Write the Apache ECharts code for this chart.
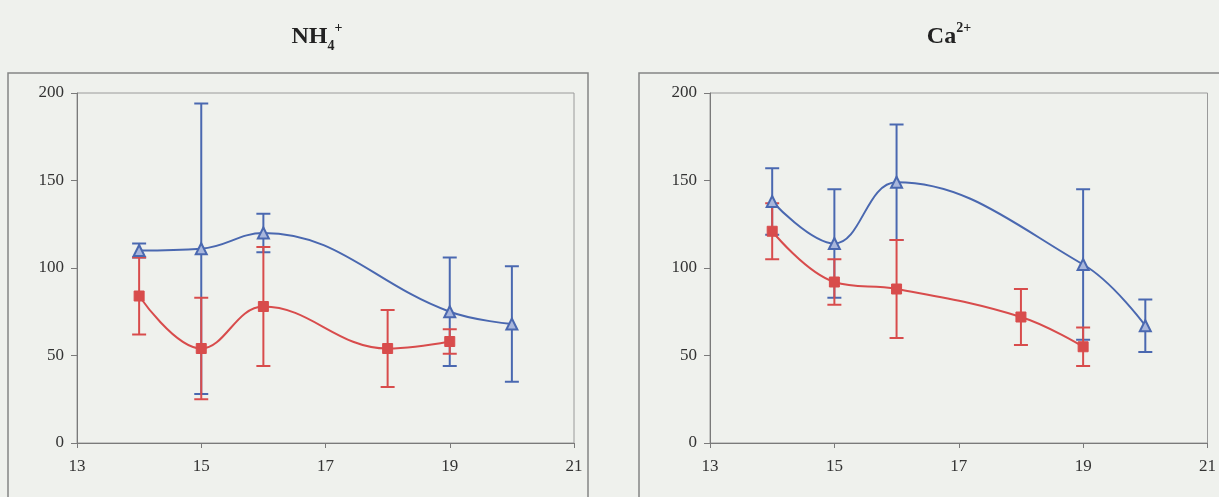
<!DOCTYPE html>
<html>
<head>
<meta charset="utf-8">
<script src="https://cdn.jsdelivr.net/npm/echarts@6/dist/echarts.min.js"></script>
<style>
html,body{margin:0;padding:0;background:#eff1ed;}
#c{width:1219px;height:497px;}
</style>
</head>
<body>
<div id="c"></div>
<script>
// ---- data ----
const xTicks = [13, 15, 17, 19, 21];
const yTicks = [0, 50, 100, 150, 200];

const nh4BlueX = [14, 15, 16, 19, 20];
const nh4BlueY = [110, 111, 120, 75, 68];
const nh4BlueErr = [4, 83, 11, 31, 33];

const nh4RedX = [14, 15, 16, 18, 19];
const nh4RedY = [84, 54, 78, 54, 58];
const nh4RedErr = [22, 29, 34, 22, 7];

const caBlueX = [14, 15, 16, 19, 20];
const caBlueY = [138, 114, 149, 102, 67];
const caBlueErr = [19, 31, 33, 43, 15];

const caRedX = [14, 15, 16, 18, 19];
const caRedY = [121, 92, 88, 72, 55];
const caRedErr = [16, 13, 28, 16, 11];

// ---- styles ----
const BLUE = '#4a68b0';
const RED = '#d84c4c';
const FONT = '"Liberation Serif", "DejaVu Serif", serif';

function pts(xs, ys) { return xs.map((x, i) => [x, ys[i]]); }
function errs(xs, ys, es) { return xs.map((x, i) => [x, ys[i], es[i]]); }

function errSeries(idx, data, color) {
  return {
    type: 'custom', xAxisIndex: idx, yAxisIndex: idx, data: data,
    encode: { x: 0, y: 1 }, z: 2, silent: true,
    renderItem: function (params, api) {
      const x = api.value(0), y = api.value(1), e = api.value(2);
      const t = api.coord([x, y + e]);
      const b = api.coord([x, y - e]);
      const w = 7;
      const st = { stroke: color, lineWidth: 2 };
      return {
        type: 'group', children: [
          { type: 'line', shape: { x1: t[0], y1: t[1], x2: b[0], y2: b[1] }, style: st },
          { type: 'line', shape: { x1: t[0] - w, y1: t[1], x2: t[0] + w, y2: t[1] }, style: st },
          { type: 'line', shape: { x1: b[0] - w, y1: b[1], x2: b[0] + w, y2: b[1] }, style: st }
        ]
      };
    }
  };
}

function lineSeries(idx, data, color, symbol) {
  const tri = symbol === 'triangle';
  return {
    type: 'line', xAxisIndex: idx, yAxisIndex: idx, data: data,
    smooth: 0.4, z: 3, silent: true,
    symbol: symbol, symbolSize: tri ? 11 : 10,
    lineStyle: { color: color, width: 2 },
    itemStyle: tri ? { color: '#a8b6dc', borderColor: color, borderWidth: 2 }
                   : { color: color, borderColor: color, borderWidth: 1 }
  };
}

function xAxis(idx) {
  return {
    type: 'value', gridIndex: idx, min: xTicks[0], max: xTicks[xTicks.length - 1], interval: 2,
    axisLine: { lineStyle: { color: '#7a7a7a', width: 1 } },
    axisTick: { show: true, length: 5, lineStyle: { color: '#7a7a7a' } },
    axisLabel: { color: '#333', fontFamily: FONT, fontSize: 17, margin: 15 },
    splitLine: { show: false }
  };
}
function yAxis(idx) {
  return {
    type: 'value', gridIndex: idx, min: yTicks[0], max: yTicks[yTicks.length - 1], interval: 50,
    axisLine: { show: true, lineStyle: { color: '#7a7a7a', width: 1 } },
    axisTick: { show: true, length: 6, lineStyle: { color: '#7a7a7a' } },
    axisLabel: { color: '#333', fontFamily: FONT, fontSize: 17, margin: 13 },
    splitLine: { show: false }
  };
}

const titleRich = {
  a: { fontSize: 24, fontWeight: 'bold', fontFamily: FONT, color: '#222', lineHeight: 32, verticalAlign: 'middle' },
  sub: { fontSize: 14, fontWeight: 'bold', fontFamily: FONT, color: '#222', lineHeight: 32, verticalAlign: 'bottom' },
  sup: { fontSize: 14, fontWeight: 'bold', fontFamily: FONT, color: '#222', lineHeight: 32, verticalAlign: 'top' }
};

const chart = echarts.init(document.getElementById('c'), null, { renderer: 'canvas' });
chart.setOption({
  animation: false,
  backgroundColor: '#eff1ed',
  title: [
    { text: '{a|NH}{sub|4}{sup|+}', left: 312, top: 16, textAlign: 'center', textStyle: { rich: titleRich } },
    { text: '{a|Ca}{sup|2+}', left: 944, top: 16, textAlign: 'center', textStyle: { rich: titleRich } }
  ],
  graphic: [
    { type: 'rect', z: -1, shape: { x: 8, y: 73, width: 580, height: 450 }, style: { fill: 'none', stroke: '#858585', lineWidth: 1.5 } },
    { type: 'rect', z: -1, shape: { x: 639, y: 73, width: 620, height: 450 }, style: { fill: 'none', stroke: '#858585', lineWidth: 1.5 } }
  ],
  grid: [
    { left: 77, top: 93, width: 497, height: 350, show: true, borderColor: '#9a9a9a', borderWidth: 1, backgroundColor: 'transparent' },
    { left: 710, top: 93, width: 501, height: 350, show: true, borderColor: '#9a9a9a', borderWidth: 1, backgroundColor: 'transparent' }
  ],
  xAxis: [xAxis(0), xAxis(1)],
  yAxis: [yAxis(0), yAxis(1)],
  series: [
    errSeries(0, errs(nh4BlueX, nh4BlueY, nh4BlueErr), BLUE),
    errSeries(0, errs(nh4RedX, nh4RedY, nh4RedErr), RED),
    lineSeries(0, pts(nh4BlueX, nh4BlueY), BLUE, 'triangle'),
    lineSeries(0, pts(nh4RedX, nh4RedY), RED, 'rect'),
    errSeries(1, errs(caBlueX, caBlueY, caBlueErr), BLUE),
    errSeries(1, errs(caRedX, caRedY, caRedErr), RED),
    lineSeries(1, pts(caBlueX, caBlueY), BLUE, 'triangle'),
    lineSeries(1, pts(caRedX, caRedY), RED, 'rect')
  ]
});
</script>
</body>
</html>
